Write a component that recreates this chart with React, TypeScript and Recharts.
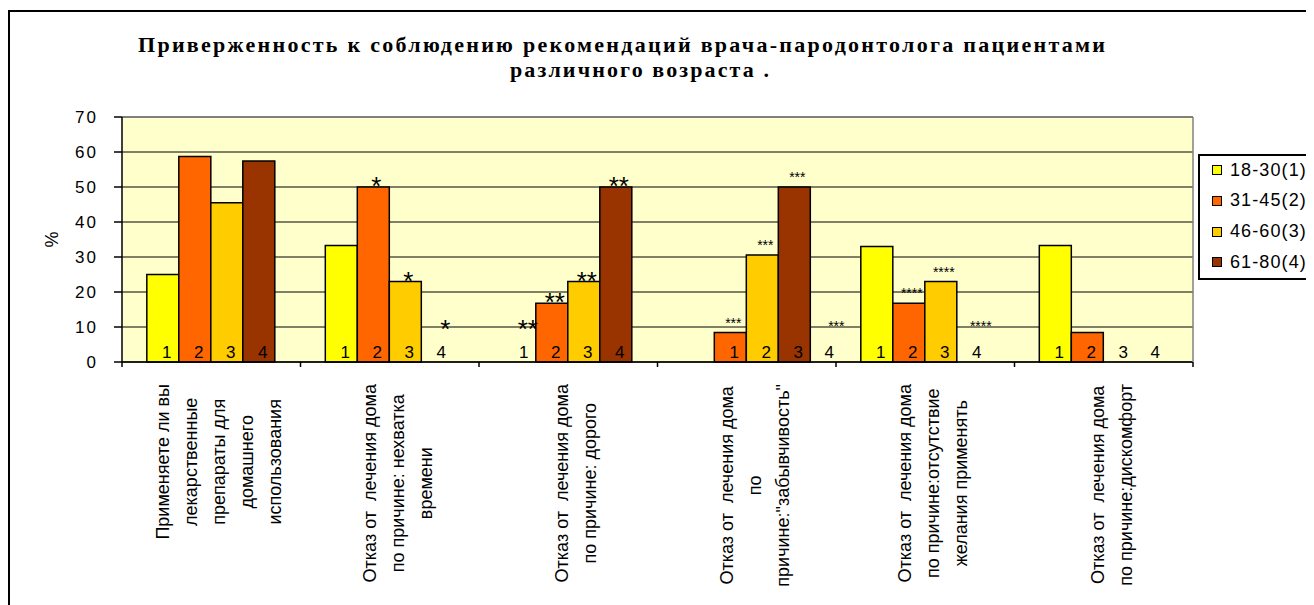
import React from 'react';
import {
  BarChart,
  Bar,
  XAxis,
  YAxis,
  CartesianGrid,
  Legend,
  LabelList,
  ReferenceLine,
} from 'recharts';

// categories (line breaks follow the original wrapping)
const categories = [
  'Применяете ли вы\nлекарственные\nпрепараты для\nдомашнего\nиспользования',
  'Отказ от  лечения дома\nпо причине: нехватка\nвремени',
  'Отказ от  лечения дома\nпо причине: дорого',
  'Отказ от  лечения дома\nпо\nпричине:"забывчивость"',
  'Отказ от  лечения дома\nпо причине:отсутствие\nжелания применять',
  'Отказ от  лечения дома\nпо причине:дискомфорт',
];

const seriesNames = ['18-30(1)', '31-45(2)', '46-60(3)', '61-80(4)'];
const seriesColors = ['#FFFF00', '#FF6600', '#FFCC00', '#993300'];

const age18to30 = [25, 33.3, 0, 0, 33, 33.3];
const age31to45 = [58.7, 50, 16.8, 8.4, 16.8, 8.4];
const age46to60 = [45.5, 23, 23, 30.6, 23, 0];
const age61to80 = [57.4, 0, 50, 50, 0, 0];

const yTicks = [0, 10, 20, 30, 40, 50, 60, 70];

// text drawn on the bars
const barNumbers = [
  ['1', '1', '1', '', '1', '1'],
  ['2', '2', '2', '1', '2', '2'],
  ['3', '3', '3', '2', '3', '3'],
  ['4', '4', '4', '3', '4', '4'],
];
const barStars = [
  ['', '', '**', '', '', ''],
  ['', '*', '**', '***', '****', ''],
  ['', '*', '**', '***', '****', ''],
  ['', '*', '**', '***', '****', ''],
];
const trailingNumbers = ['', '', '', '4', '', ''];
const trailingStars = ['', '', '', '***', '', ''];

const seriesValues = [age18to30, age31to45, age46to60, age61to80];
const data = categories.map((name, i) => ({
  name,
  catNo: i + 1,
  s0: age18to30[i],
  s1: age31to45[i],
  s2: age46to60[i],
  s3: age61to80[i],
}));

const SANS = "'Liberation Sans', Arial, sans-serif";
const LABEL_FONT_SIZE = 18;

let measureCtx: CanvasRenderingContext2D | null = null;
const textWidth = (s: string) => {
  if (!measureCtx && typeof document !== 'undefined') {
    measureCtx = document.createElement('canvas').getContext('2d');
  }
  if (!measureCtx) return s.length * 9;
  measureCtx.font = `${LABEL_FONT_SIZE}px "Liberation Sans"`;
  return measureCtx.measureText(s).width;
};

const numberText = (key: string, cx: number, base: number, txt: string) =>
  txt ? (
    <text key={key} x={cx + 4} y={base - 4} textAnchor="middle" fontSize={17} fontFamily={SANS} fill="#000">
      {txt}
    </text>
  ) : null;

const starText = (key: string, cx: number, base: number, top: number, stars: string, zero: boolean) => {
  if (!stars) return null;
  const big = stars.length <= 2;
  const fs = big ? 26 : 14;
  let y;
  if (zero) y = base - 39 + fs * 0.57;
  else y = big ? top + 8 : top - 5;
  return (
    <text key={key} x={zero ? cx + 8 : cx + 3} y={y} textAnchor="middle" fontSize={fs} fontFamily={SANS} fill="#000">
      {stars}
    </text>
  );
};

// each series labels its own bars; the orange series (never zero) also
// labels the empty slots of its group and the trailing marks
const makeBarLabel = (s: number) => (props: any) => {
  const vb = props.viewBox && props.viewBox.width !== undefined ? props.viewBox : props;
  const x = Number(vb.x);
  const y = Number(vb.y);
  const width = Number(vb.width);
  const height = Number(vb.height);
  const cat = Number(props.value) - 1;
  if (!(cat >= 0 && cat < categories.length)) return null;
  const base = y + height;
  const cx = x + width / 2;
  const out: any[] = [];
  if (seriesValues[s][cat]) {
    out.push(numberText('n', cx, base, barNumbers[s][cat]));
    out.push(starText('s', cx, base, y, barStars[s][cat], false));
  }
  if (s === 1) {
    for (let k = 0; k < seriesNames.length; k++) {
      if (seriesValues[k][cat]) continue;
      const kx = cx + (k - s) * width;
      out.push(numberText(`zn${k}`, kx, base, barNumbers[k][cat]));
      out.push(starText(`zs${k}`, kx, base, base, barStars[k][cat], true));
    }
    const tx = cx + (seriesNames.length - s) * width;
    out.push(numberText('tn', tx - 1, base, trailingNumbers[cat]));
    out.push(starText('ts', tx + 2, base, base, trailingStars[cat], true));
  }
  return <g>{out}</g>;
};

const CategoryTick = (props: any) => {
  const { x, y, payload, index } = props;
  const half = payload && payload.offset ? payload.offset : 89.3;
  const lines = String(payload.value).split('\n');
  const longest = Math.max(...lines.map(textWidth));
  const cy = y + 22 + longest / 2;
  const n = lines.length;
  return (
    <g>
      <line x1={x - half} x2={x - half} y1={y} y2={y + 5} stroke="#000" strokeWidth={1.5} />
      {index === categories.length - 1 && (
        <line x1={x + half} x2={x + half} y1={y} y2={y + 5} stroke="#000" strokeWidth={1.5} />
      )}
      {lines.map((ln, i) => {
        const lx = x + 8 + (i - (n - 1) / 2) * 28 + 6;
        return (
          <text
            key={i}
            x={lx}
            y={cy}
            transform={`rotate(-90 ${lx} ${cy})`}
            textAnchor="middle"
            fontSize={LABEL_FONT_SIZE}
            fontFamily={SANS}
            fill="#000"
            style={{ whiteSpace: 'pre' }}
          >
            {ln}
          </text>
        );
      })}
    </g>
  );
};

const LegendBox = () => (
  <div
    style={{
      position: 'relative',
      width: 140,
      height: 126,
      border: '2px solid #000',
      background: '#fff',
      boxSizing: 'border-box',
    }}
  >
    {seriesNames.map((name, i) => (
      <div
        key={name}
        style={{
          position: 'absolute',
          left: 12,
          top: 14 + i * 30.8 - 12,
          height: 24,
          display: 'flex',
          alignItems: 'center',
          fontFamily: SANS,
          fontSize: 18,
          letterSpacing: 1.1,
          color: '#000',
          whiteSpace: 'nowrap',
        }}
      >
        <span
          style={{
            display: 'inline-block',
            width: 10,
            height: 10,
            boxSizing: 'border-box',
            border: '1.5px solid #000',
            background: seriesColors[i],
            marginRight: 8,
          }}
        />
        {name}
      </div>
    ))}
  </div>
);

export default function App() {
  return (
    <div style={{ position: 'relative', width: 1306, height: 597, overflow: 'hidden', background: '#fff' }}>
      <div
        style={{
          position: 'absolute',
          left: 0,
          top: 2,
          width: 1400,
          height: 700,
          border: '2px solid #000',
          boxSizing: 'border-box',
        }}
      />
      <svg width={1306} height={110} style={{ position: 'absolute', left: 0, top: 0 }}>
        <text
          x={130}
          y={44}
          textLength={967}
          lengthAdjust="spacing"
          fontFamily="'Liberation Serif', 'Times New Roman', serif"
          fontWeight="bold"
          fontSize={22}
          fill="#000"
        >
          Приверженность к соблюдению рекомендаций врача-пародонтолога пациентами
        </text>
        <text
          x={502}
          y={69}
          textLength={259}
          lengthAdjust="spacing"
          fontFamily="'Liberation Serif', 'Times New Roman', serif"
          fontWeight="bold"
          fontSize={22}
          fill="#000"
        >
          различного возраста .
        </text>
      </svg>
      <div style={{ position: 'absolute', left: 0, top: 0 }}>
        <BarChart
          width={1306}
          height={597}
          data={data}
          margin={{ top: 109, right: 120, bottom: 10, left: 54 }}
          barCategoryGap="13.9%"
          barGap={0}
        >
          <CartesianGrid vertical={false} stroke="#000" strokeWidth={1} fill="#FFFFCC" />
          <XAxis
            dataKey="name"
            interval={0}
            height={233}
            tickSize={0}
            tickMargin={0}
            tickLine={false}
            axisLine={{ stroke: '#000', strokeWidth: 1.5 }}
            tick={<CategoryTick />}
          />
          <YAxis
            domain={[0, 70]}
            ticks={yTicks}
            width={60}
            tickSize={8}
            tickMargin={16}
            axisLine={{ stroke: '#000', strokeWidth: 1.5 }}
            tickLine={{ stroke: '#000', strokeWidth: 1.5 }}
            tick={{ fill: '#000', fontSize: 17, fontFamily: SANS, letterSpacing: 2 }}
            label={(p: any) => {
              const vb = p.viewBox || { x: 54, y: 109, height: 245 };
              const lx = vb.x - 4;
              const ly = vb.y + vb.height / 2;
              return (
                <text
                  x={lx}
                  y={ly}
                  transform={`rotate(-90 ${lx} ${ly})`}
                  textAnchor="middle"
                  fontSize={18}
                  fontFamily={SANS}
                  fill="#000"
                >
                  %
                </text>
              );
            }}
          />
          <YAxis
            yAxisId="right"
            orientation="right"
            domain={[0, 70]}
            width={1}
            tick={false}
            tickLine={false}
            axisLine={{ stroke: '#808080', strokeWidth: 1.5 }}
          />
          <ReferenceLine y={70} stroke="#808080" strokeWidth={1.5} />
          <Legend
            layout="horizontal"
            verticalAlign="middle"
            align="center"
            content={<LegendBox />}
            wrapperStyle={{ left: 1190, top: 146, width: 140, height: 126 }}
          />
          {seriesNames.map((name, s) => (
            <Bar
              key={name}
              dataKey={`s${s}`}
              name={name}
              fill={seriesColors[s]}
              stroke="#000"
              strokeWidth={1.5}
              isAnimationActive={false}
            >
              <LabelList dataKey="catNo" content={makeBarLabel(s)} />
            </Bar>
          ))}
        </BarChart>
      </div>
    </div>
  );
}
